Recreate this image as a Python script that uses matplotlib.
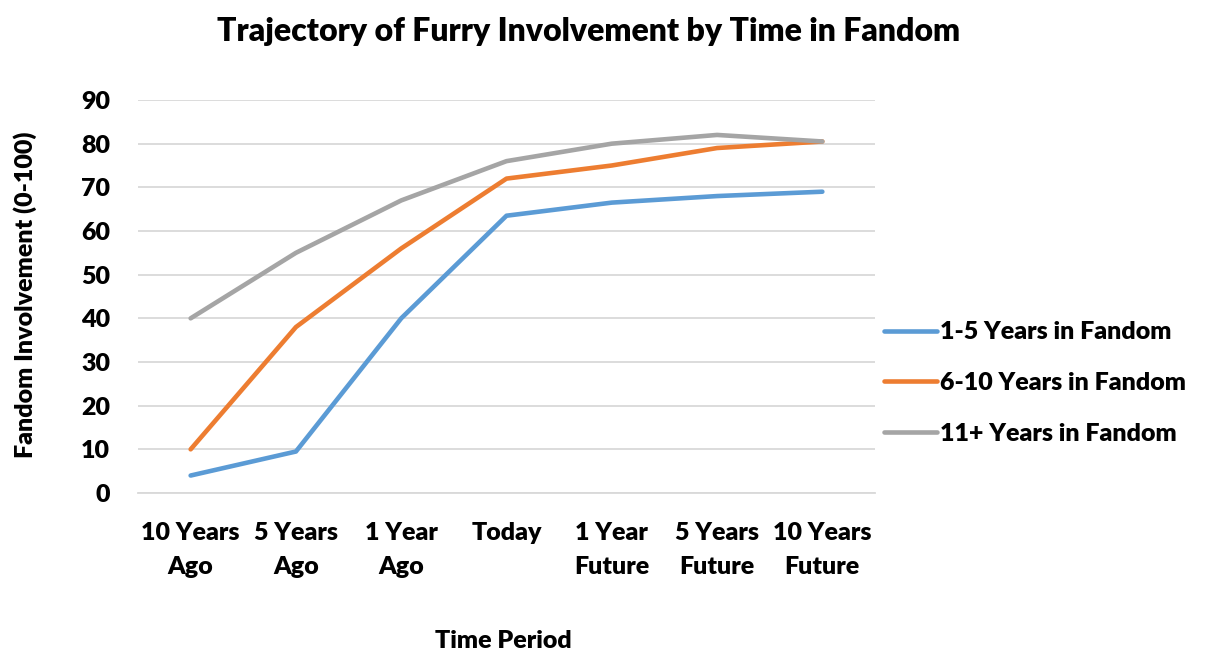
import matplotlib
matplotlib.use("Agg")
import matplotlib.pyplot as plt

categories = ["10 Years\nAgo", "5 Years\nAgo", "1 Year\nAgo", "Today",
              "1 Year\nFuture", "5 Years\nFuture", "10 Years\nFuture"]
series_names = ["1-5 Years in Fandom", "6-10 Years in Fandom", "11+ Years in Fandom"]
s1 = [4, 9.5, 40, 63.5, 66.5, 68, 69]
s2 = [10, 38, 56, 72, 75, 79, 80.5]
s3 = [40, 55, 67, 76, 80, 82, 80.5]
colors = ["#5B9BD5", "#ED7D31", "#A5A5A5"]
yticks = [0, 10, 20, 30, 40, 50, 60, 70, 80, 90]

FW = 'heavy'
FS = 18
plt.rcParams['font.family'] = ['Lato', 'DejaVu Sans']
plt.rcParams['font.weight'] = FW

fig = plt.figure(figsize=(12.06, 6.54), dpi=100)
ax = fig.add_axes([138/1206, 1-493/654, (875-138)/1206, (493-100)/654])

x = list(range(len(categories)))
for vals, name, c in zip([s1, s2, s3], series_names, colors):
    ax.plot(x, vals, color=c, lw=3.3, label=name, solid_capstyle='round', solid_joinstyle='round', zorder=3)

ax.set_xlim(-0.5, len(categories)-0.5)
ax.set_ylim(0, 90)
ax.set_yticks(yticks)
ax.set_yticklabels([str(v) for v in yticks], fontsize=FS, fontweight=FW)
ax.set_xticks(x)
ax.set_xticklabels(categories, fontsize=FS, fontweight=FW, linespacing=1.68)
ax.tick_params(axis='x', length=0, pad=21)
ax.tick_params(axis='y', length=0, pad=20)
ax.grid(axis='y', color='#D9D9D9', lw=1.3, zorder=0)
for sp in ['top', 'right', 'left']:
    ax.spines[sp].set_visible(False)
ax.spines['bottom'].set_color('#D9D9D9')
ax.spines['bottom'].set_linewidth(1.3)

fig.text(589/1206, 1-32/654, "Trajectory of Furry Involvement by Time in Fandom",
         ha='center', va='center', fontsize=23, fontweight=FW)
fig.text(503/1206, 1-641/654, "Time Period", ha='center', va='center', fontsize=FS, fontweight=FW)
fig.text(25/1206, 1-295/654, "Fandom Involvement (0-100)", ha='center', va='center',
         rotation=90, fontsize=FS, fontweight=FW)

leg = fig.legend(loc='center left', bbox_to_anchor=(861/1206, 1-383/654), frameon=False,
                 handlelength=2.15, handletextpad=0.12, labelspacing=1.15,
                 prop={'weight': FW, 'size': FS, 'family': ['Lato', 'DejaVu Sans']})

fig.savefig("out.png", dpi=100)
